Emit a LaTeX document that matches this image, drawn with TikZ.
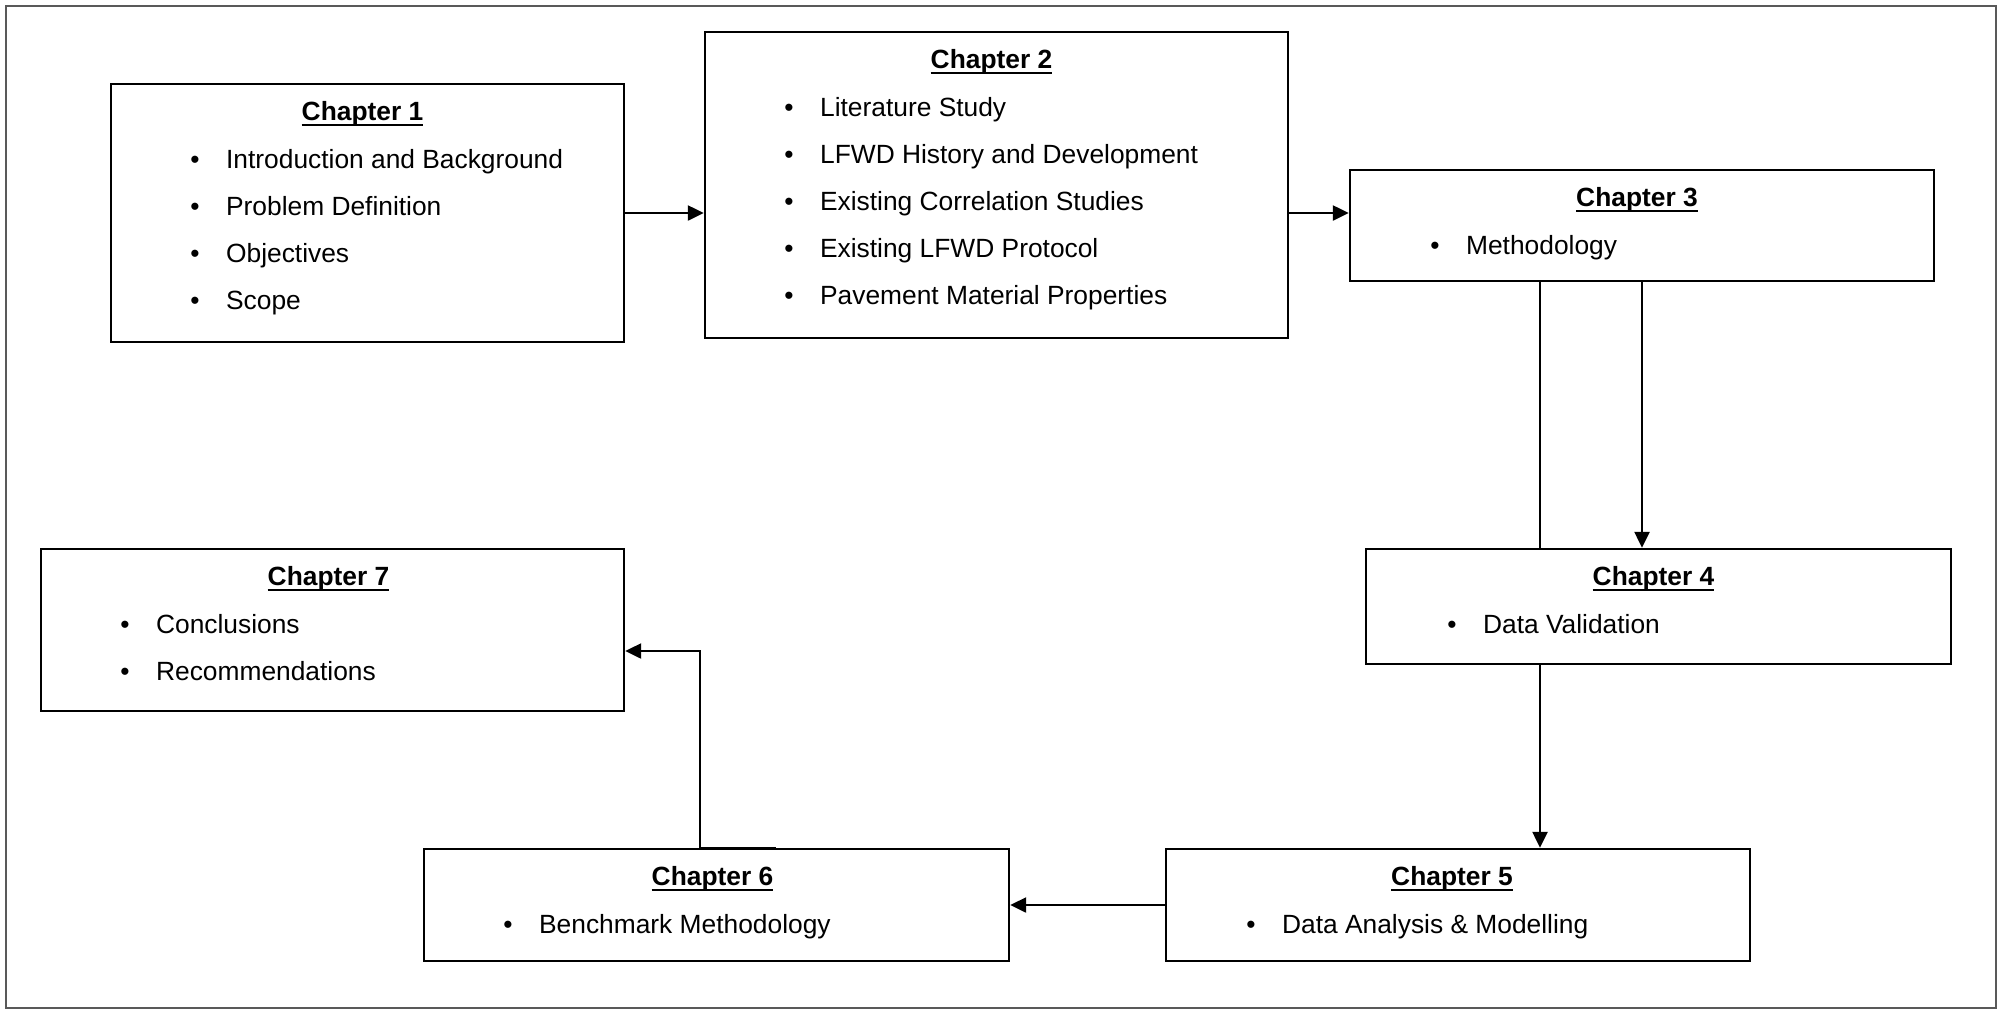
\documentclass[tikz,border=0pt]{standalone}
\usepackage{fontspec}
\setmainfont{Liberation Sans}
\usetikzlibrary{arrows.meta,fit}

\begin{document}
\begin{tikzpicture}[x=0.02cm,y=-0.02cm]
		\newcommand{\bul}{\llap{\textbullet\hspace{0.53cm}}} % bullet in front of an item
		\newcommand{\chapul}[1]{\setbox0\hbox{#1}\rlap{\rule[-2.8pt]{\wd0}{1pt}}\box0} % underlined title
		\newcommand{\lw}{1.4pt}

		% styles of the boxes, texts and links
		\tikzset{
			chapbox/.style={draw, line width=\lw, inner sep=0pt},
			chaptitle/.style={anchor=base, inner sep=0pt, font=\fontsize{15pt}{18pt}\selectfont\bfseries},
			chapitem/.style={anchor=base west, inner sep=0pt, font=\fontsize{15pt}{18pt}\selectfont},
			flow/.style={line width=\lw, -{Triangle[length=0.32cm,width=0.3cm]}},
			plain/.style={line width=\lw}
		}

		\useasboundingbox (0,0) rectangle (2002,1012);
		\draw[black!65, line width=1.2pt] (6,6) rectangle (1996,1008);

		% boxes
		\node[chapbox, fit={(111,84) (624,342)}] (c1) {};
		\node[chapbox, fit={(705,32) (1288,338)}] (c2) {};
		\node[chapbox, fit={(1350,170) (1934,281)}] (c3) {};
		\node[chapbox, fit={(1366,549) (1951,664)}] (c4) {};
		\node[chapbox, fit={(1166,849) (1750,961)}] (c5) {};
		\node[chapbox, fit={(424,849) (1009,961)}] (c6) {};
		\node[chapbox, fit={(41,549) (624,711)}] (c7) {};

		% titles
		\node[chaptitle] (t1) at ([shift={(-5,38)}]c1.north) {\chapul{Chapter 1}};
		\node[chaptitle] (t2) at ([shift={(-5,38)}]c2.north) {\chapul{Chapter 2}};
		\node[chaptitle] (t3) at ([shift={(-5,38)}]c3.north) {\chapul{Chapter 3}};
		\node[chaptitle] (t4) at ([shift={(-5,38)}]c4.north) {\chapul{Chapter 4}};
		\node[chaptitle] (t5) at ([shift={(-6,38)}]c5.north) {\chapul{Chapter 5}};
		\node[chaptitle] (t6) at ([shift={(-4,38)}]c6.north) {\chapul{Chapter 6}};
		\node[chaptitle] (t7) at ([shift={(-4,38)}]c7.north) {\chapul{Chapter 7}};

		% items
		\foreach \txt [count=\i] in {Introduction and Background, Problem Definition, Objectives, Scope}
			\node[chapitem] (c1i\i) at ([shift={(116,39+47*\i)}]c1.north west) {\bul\txt};
		\foreach \txt [count=\i] in {Literature Study, LFWD History and Development, Existing Correlation Studies, Existing LFWD Protocol, Pavement Material Properties}
			\node[chapitem] (c2i\i) at ([shift={(116,39+47*\i)}]c2.north west) {\bul\txt};
		\node[chapitem] (c3i1) at ([shift={(117,86)}]c3.north west) {\bul Methodology};
		\node[chapitem] (c4i1) at ([shift={(118,86)}]c4.north west) {\bul Data Validation};
		\node[chapitem] (c5i1) at ([shift={(117,86)}]c5.north west) {\bul Data Analysis \& Modelling};
		\node[chapitem] (c6i1) at ([shift={(116,86)}]c6.north west) {\bul Benchmark Methodology};
		\foreach \txt [count=\i] in {Conclusions, Recommendations}
			\node[chapitem] (c7i\i) at ([shift={(116,39+47*\i)}]c7.north west) {\bul\txt};

		% links
		\coordinate (drop) at (1540,0);
		\coordinate (stub) at (776,0);
		\coordinate (rise) at (700,651);
		\draw[flow] (c1.east) -- (c1.east -| c2.west);
		\draw[flow] (c2.east |- c1.east) -- (c3.west |- c1.east);
		\draw[plain] (c3.south -| drop) -- (c4.north -| drop);
		\draw[flow] (c3.south) -- (c4.north -| c3.south);
		\draw[flow] (c4.south -| drop) -- (c5.north -| drop);
		\draw[flow] (c5.west) -- (c6.east);
		\draw[flow] (c6.north -| stub) -- (c6.north -| rise) -- (rise) -- (rise -| c7.east);

\end{tikzpicture}
\end{document}
